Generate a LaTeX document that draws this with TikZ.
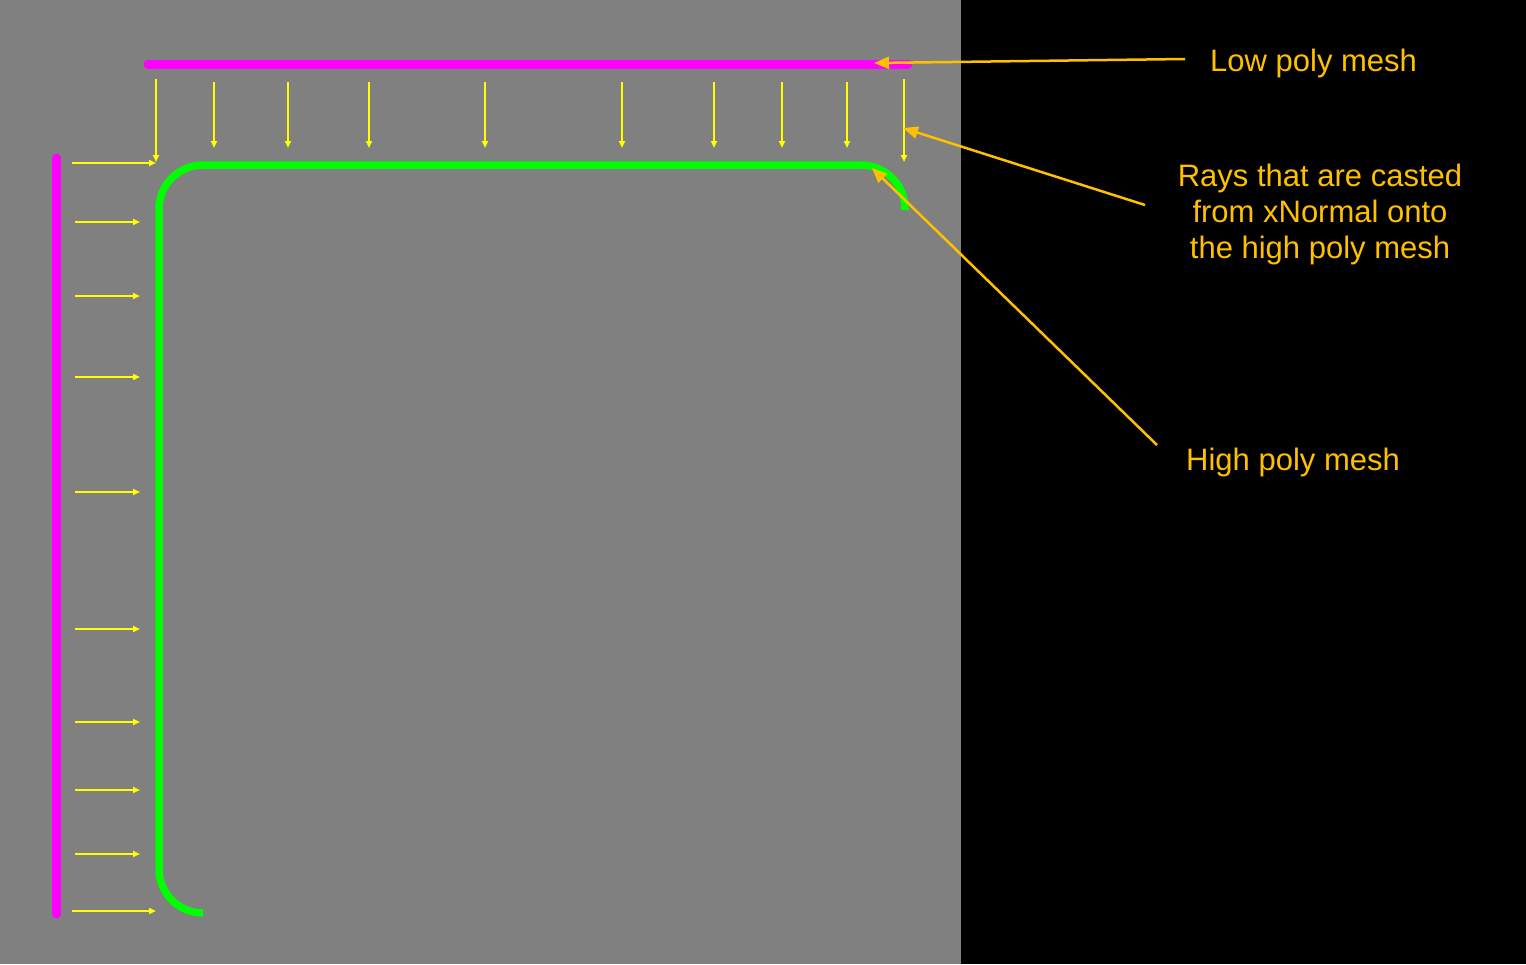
\documentclass[tikz,border=0pt]{standalone}
\usepackage{fontspec}
\setmainfont{Liberation Sans}
\usetikzlibrary{arrows.meta}
\definecolor{bggray}{RGB}{128,128,128}
\definecolor{lowmag}{RGB}{255,0,255}
\definecolor{highgreen}{RGB}{0,255,0}
\definecolor{rayyellow}{RGB}{255,255,0}
\definecolor{lblorange}{RGB}{255,192,0}
\tikzset{
  lowmesh/.style={draw=lowmag,line width=9pt,line cap=round},
  highmesh/.style={draw=highgreen,line width=7.5pt},
  ray/.style={draw=rayyellow,line width=2.5pt,-{Triangle[length=7pt,width=6pt]}},
  callout/.style={draw=lblorange,line width=2.5pt,-{Triangle[length=15pt,width=12pt]}},
  lbl/.style={text=lblorange,font=\fontsize{31}{36}\selectfont,inner sep=0pt},
}
\begin{document}
\begin{tikzpicture}[x=1pt,y=-1pt]
\useasboundingbox (0,0) rectangle (1526,964);
\fill[bggray] (0,0) rectangle (961,964);
\fill[black] (961,0) rectangle (1526,964);
% low poly mesh
\draw[lowmesh] (148,64) coordinate (lowA) -- (908,64) coordinate (lowB);
\draw[lowmesh] (56,158) coordinate (lowC) -- (56,914) coordinate (lowD);
% high poly mesh
\coordinate (hStart) at (203,913);
\coordinate (hC1) at (159,913);
\coordinate (hC2) at (159,165);
\coordinate (hC3) at (905,165);
\coordinate (hEnd) at (905,210);
\draw[highmesh,rounded corners=44pt] (hStart) -- (hC1) -- (hC2) -- (hC3) -- (hEnd);
% rays from top
\foreach \x/\ya/\yb in {156/79/162,214/82/148,288/82/148,369/82/148,485/82/148,622/82/148,714/82/148,782/82/148,847/82/148,904/79/162}{
  \coordinate (rt\x) at (\x,\ya);
  \coordinate (rb\x) at (\x,\yb);
  \draw[ray] (rt\x) -- (rb\x);
}
% rays from left
\foreach \y/\xa/\xb in {163/72/156,222/75/140,296/75/140,377/75/140,492/75/140,629/75/140,722/75/140,790/75/140,854/75/140,911/72/156}{
  \coordinate (rl\y) at (\xa,\y);
  \coordinate (rr\y) at (\xb,\y);
  \draw[ray] (rl\y) -- (rr\y);
}
% labels
\node[lbl,anchor=west] (lowlbl) at (1210,63) {Low poly mesh};
\node[lbl,align=center] (raylbl) at (1320,214) {Rays that are casted\\from xNormal onto\\the high poly mesh};
\node[lbl,anchor=west] (highlbl) at (1186,462) {High poly mesh};
% callouts
\coordinate (lowS) at (1185,59);
\coordinate (lowT) at (874,63);
\coordinate (rayS) at (1145,205);
\coordinate (rayT) at (903,128);
\coordinate (highS) at (1157,445);
\coordinate (highT) at (872,168);
\draw[callout] (lowS) -- (lowT);
\draw[callout] (rayS) -- (rayT);
\draw[callout] (highS) -- (highT);
\end{tikzpicture}
\end{document}
